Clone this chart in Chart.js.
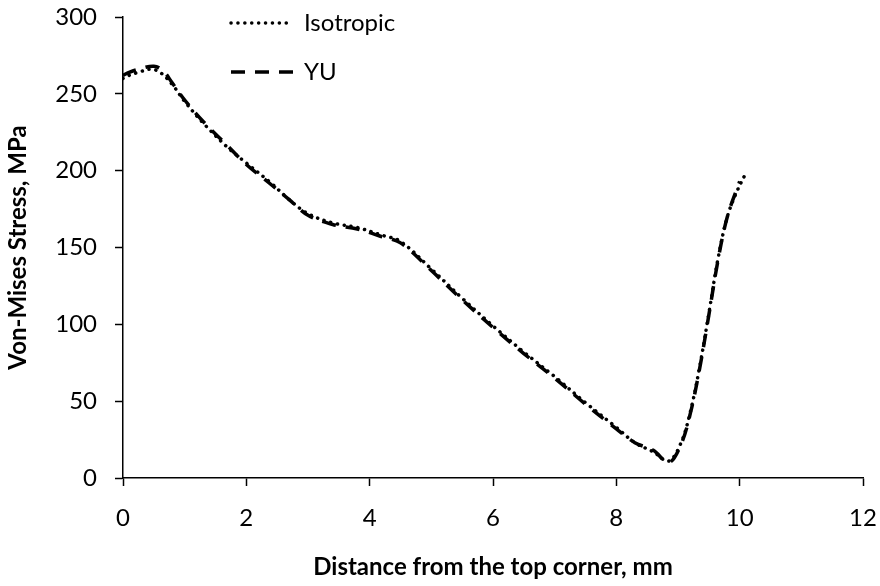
<!DOCTYPE html>
<html>
<head>
<meta charset="utf-8">
<script src="https://cdn.jsdelivr.net/npm/chart.js@4"></script>
<style>
  html, body { margin: 0; padding: 0; background: #fff; }
  #wrap { width: 880px; height: 586px; }
</style>
</head>
<body>
<div id="wrap"><canvas id="myChart" width="880" height="586"></canvas></div>
<script>
// distance from top corner (mm) and von-mises stress (MPa)
const isoX = [0, 0.1, 0.25, 0.45, 0.6, 0.8, 1.0, 1.3, 1.7, 2.0, 2.4, 2.7, 3.0, 3.4, 3.8, 4.2, 4.5, 5.0, 5.5, 6.0, 6.5, 7.0, 7.5, 8.0, 8.3, 8.6, 8.85, 9.05, 9.2, 9.35, 9.5, 9.65, 9.8, 9.95, 10.12];
const isoY = [260, 262, 264, 266, 264, 256, 245, 231, 215, 205, 192, 181, 172, 166, 163, 158, 154, 136, 117, 99, 82, 66, 49, 33, 23, 17, 11, 23, 43, 72, 107, 143, 170, 186, 200];

const yuX = [0, 0.1, 0.25, 0.5, 0.65, 0.8, 1.0, 1.3, 1.7, 2.0, 2.4, 2.7, 3.0, 3.4, 3.8, 4.2, 4.5, 5.0, 5.5, 6.0, 6.5, 7.0, 7.5, 8.0, 8.3, 8.6, 8.85, 9.05, 9.2, 9.35, 9.5, 9.65, 9.8, 10.0];
const yuY = [262, 264, 266, 268, 265, 257, 246, 232, 216, 204, 191, 181, 171, 165, 162, 157, 153, 135, 116, 98, 81, 65, 48, 32, 23, 18, 10, 22, 42, 71, 106, 142, 170, 193];

const xTicks = [0, 2, 4, 6, 8, 10, 12];
const yTicks = [0, 50, 100, 150, 200, 250, 300];

const seriesNames = ['Isotropic', 'YU'];

function pts(xs, ys) {
  return xs.map((x, i) => ({ x: x, y: ys[i] }));
}

// legend stacked in the top of the plot, like the original
const stackedLegend = {
  id: 'stackedLegend',
  afterDraw(chart) {
    const ctx = chart.ctx;
    const rows = [23, 72];
    chart.data.datasets.forEach((ds, i) => {
      const y = rows[i];
      ctx.save();
      ctx.strokeStyle = ds.borderColor;
      ctx.lineWidth = ds.borderWidth;
      ctx.lineCap = ds.borderCapStyle;
      ctx.setLineDash(ds.borderDash);
      ctx.beginPath();
      ctx.moveTo(231, y);
      ctx.lineTo(293, y);
      ctx.stroke();
      ctx.setLineDash([]);
      ctx.fillStyle = '#000';
      ctx.font = '24px Lato, sans-serif';
      ctx.textBaseline = 'middle';
      ctx.fillText(ds.label, 304, y);
      ctx.restore();
    });
  }
};

const ctx = document.getElementById('myChart').getContext('2d');
Chart.defaults.font.family = 'Lato, sans-serif';
Chart.defaults.color = '#000';

new Chart(ctx, {
  type: 'scatter',
  data: {
    datasets: [
      {
        label: seriesNames[0],
        data: pts(isoX, isoY),
        showLine: true,
        borderColor: '#000',
        borderWidth: 3.5,
        borderDash: [0.1, 6.8],
        borderCapStyle: 'round',
        pointRadius: 0,
        tension: 0.35,
      },
      {
        label: seriesNames[1],
        data: pts(yuX, yuY),
        showLine: true,
        borderColor: '#000',
        borderWidth: 3.5,
        borderDash: [14, 10],
        borderCapStyle: 'butt',
        pointRadius: 0,
        tension: 0.35,
      },
    ],
  },
  options: {
    responsive: false,
    animation: false,
    layout: { padding: { top: 17, right: 17, left: 0, bottom: 0 } },
    plugins: {
      legend: { display: false },
      tooltip: { enabled: false },
    },
    scales: {
      x: {
        type: 'linear',
        min: 0,
        max: 12,
        afterBuildTicks: (s) => { s.ticks = xTicks.map(v => ({ value: v })); },
        afterFit: (s) => { s.height = 108; s.paddingLeft = 0; s.paddingRight = 0; },
        border: { color: '#000', width: 1.5 },
        grid: { drawOnChartArea: false, tickLength: 8, color: '#000', tickWidth: 1.5 },
        ticks: { font: { size: 24 }, padding: 18, maxRotation: 0 },
        title: {
          display: true,
          text: 'Distance from the top corner, mm',
          font: { size: 24, weight: 'bold' },
          padding: { top: 0, bottom: 4 },
        },
      },
      y: {
        type: 'linear',
        min: 0,
        max: 300,
        afterBuildTicks: (s) => { s.ticks = yTicks.map(v => ({ value: v })); },
        afterFit: (s) => { s.width = 123; s.paddingTop = 0; s.paddingBottom = 0; },
        border: { color: '#000', width: 1.5 },
        grid: { drawOnChartArea: false, tickLength: 8, color: '#000', tickWidth: 1.5 },
        ticks: { font: { size: 24 }, padding: 18 },
        title: {
          display: true,
          text: 'Von-Mises Stress, MPa',
          font: { size: 24, weight: 'bold' },
          padding: { top: 4, bottom: 0 },
        },
      },
    },
  },
  plugins: [stackedLegend],
});
</script>
</body>
</html>
